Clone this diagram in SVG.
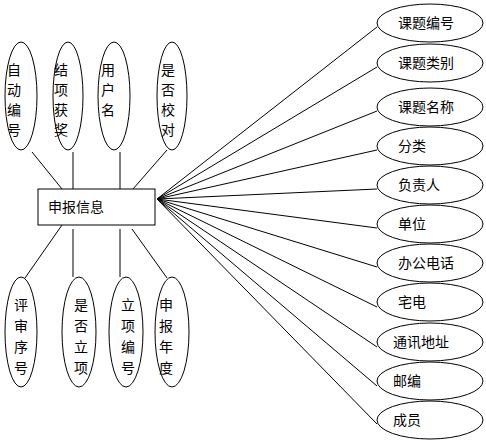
<svg xmlns="http://www.w3.org/2000/svg" width="486" height="443" viewBox="0 0 486 443">
<style>
.s{fill:#fff;stroke:#000;stroke-width:1}
.t{font-family:"Liberation Sans","Noto Sans CJK SC",sans-serif;font-size:14px;fill:#000}
.c line{stroke:#000;stroke-width:1}
</style>
<rect width="486" height="443" fill="#fff"/>
<g class="c" id="connectors">
<line x1="32" y1="152" x2="62" y2="189"/>
<line x1="73" y1="152" x2="73" y2="198"/>
<line x1="120" y1="152" x2="120" y2="189"/>
<line x1="167" y1="150" x2="133" y2="189"/>
<line x1="62" y1="225" x2="25" y2="278"/>
<line x1="73" y1="229" x2="73" y2="277"/>
<line x1="120" y1="229" x2="120" y2="277"/>
<line x1="132" y1="229" x2="167" y2="278"/>
<line x1="157" y1="199" x2="377" y2="27"/>
<line x1="157" y1="199" x2="377" y2="67"/>
<line x1="157" y1="199" x2="377" y2="111"/>
<line x1="157" y1="199" x2="377" y2="150"/>
<line x1="157" y1="199" x2="377" y2="189"/>
<line x1="157" y1="199" x2="377" y2="228"/>
<line x1="157" y1="199" x2="377" y2="267"/>
<line x1="157" y1="199" x2="377" y2="307"/>
<line x1="157" y1="199" x2="377" y2="347"/>
<line x1="157" y1="199" x2="377" y2="386"/>
<line x1="157" y1="199" x2="377" y2="424"/>
</g>
<g id="main"><rect class="s" x="38" y="189" width="117" height="36"/><text class="t" x="48" y="212" font-size="13">申报信息</text></g>
<g id="a1"><ellipse class="s" cx="21" cy="96" rx="16" ry="54"/><text class="t" x="7"><tspan x="7" y="75">自</tspan><tspan x="7" y="95">动</tspan><tspan x="7" y="115">编</tspan><tspan x="7" y="135">号</tspan></text></g>
<g id="a2"><ellipse class="s" cx="68" cy="96" rx="15" ry="54"/><text class="t"><tspan x="54" y="75">结</tspan><tspan x="54" y="95">项</tspan><tspan x="54" y="115">获</tspan><tspan x="54" y="135">奖</tspan></text></g>
<g id="a3"><ellipse class="s" cx="114" cy="96" rx="16" ry="54"/><text class="t"><tspan x="101" y="75">用</tspan><tspan x="101" y="95">户</tspan><tspan x="101" y="115">名</tspan></text></g>
<g id="a4"><ellipse class="s" cx="172" cy="96" rx="15" ry="54"/><text class="t"><tspan x="161" y="75">是</tspan><tspan x="161" y="95">否</tspan><tspan x="161" y="115">校</tspan><tspan x="161" y="135">对</tspan></text></g>
<g id="b1"><ellipse class="s" cx="21" cy="332" rx="16" ry="55"/><text class="t"><tspan x="14" y="310">评</tspan><tspan x="14" y="331">审</tspan><tspan x="14" y="352">序</tspan><tspan x="14" y="373">号</tspan></text></g>
<g id="b2"><ellipse class="s" cx="79" cy="332" rx="17" ry="55"/><text class="t"><tspan x="74" y="310">是</tspan><tspan x="74" y="331">否</tspan><tspan x="74" y="352">立</tspan><tspan x="74" y="373">项</tspan></text></g>
<g id="b3"><ellipse class="s" cx="126" cy="332" rx="17" ry="55"/><text class="t"><tspan x="121" y="310">立</tspan><tspan x="121" y="331">项</tspan><tspan x="121" y="352">编</tspan><tspan x="121" y="373">号</tspan></text></g>
<g id="b4"><ellipse class="s" cx="172" cy="332" rx="17" ry="55"/><text class="t"><tspan x="159" y="310">申</tspan><tspan x="159" y="331">报</tspan><tspan x="159" y="352">年</tspan><tspan x="159" y="373">度</tspan></text></g>
<g id="r1"><ellipse class="s" cx="430" cy="23" rx="53" ry="19"/><text class="t" x="398" y="28">课题编号</text></g>
<g id="r2"><ellipse class="s" cx="430" cy="63" rx="53" ry="19"/><text class="t" x="398" y="68">课题类别</text></g>
<g id="r3"><ellipse class="s" cx="430" cy="107" rx="53" ry="19"/><text class="t" x="398" y="112">课题名称</text></g>
<g id="r4"><ellipse class="s" cx="430" cy="146" rx="53" ry="19"/><text class="t" x="398" y="151">分类</text></g>
<g id="r5"><ellipse class="s" cx="430" cy="185" rx="53" ry="19"/><text class="t" x="398" y="190">负责人</text></g>
<g id="r6"><ellipse class="s" cx="430" cy="224" rx="53" ry="19"/><text class="t" x="398" y="229">单位</text></g>
<g id="r7"><ellipse class="s" cx="430" cy="263" rx="53" ry="19"/><text class="t" x="398" y="268">办公电话</text></g>
<g id="r8"><ellipse class="s" cx="430" cy="302" rx="53" ry="19"/><text class="t" x="398" y="307">宅电</text></g>
<g id="r9"><ellipse class="s" cx="430" cy="342" rx="53" ry="19"/><text class="t" x="393" y="347">通讯地址</text></g>
<g id="r10"><ellipse class="s" cx="430" cy="381" rx="53" ry="19"/><text class="t" x="393" y="386">邮编</text></g>
<g id="r11"><ellipse class="s" cx="430" cy="420" rx="53" ry="19"/><text class="t" x="393" y="425">成员</text></g>
</svg>
